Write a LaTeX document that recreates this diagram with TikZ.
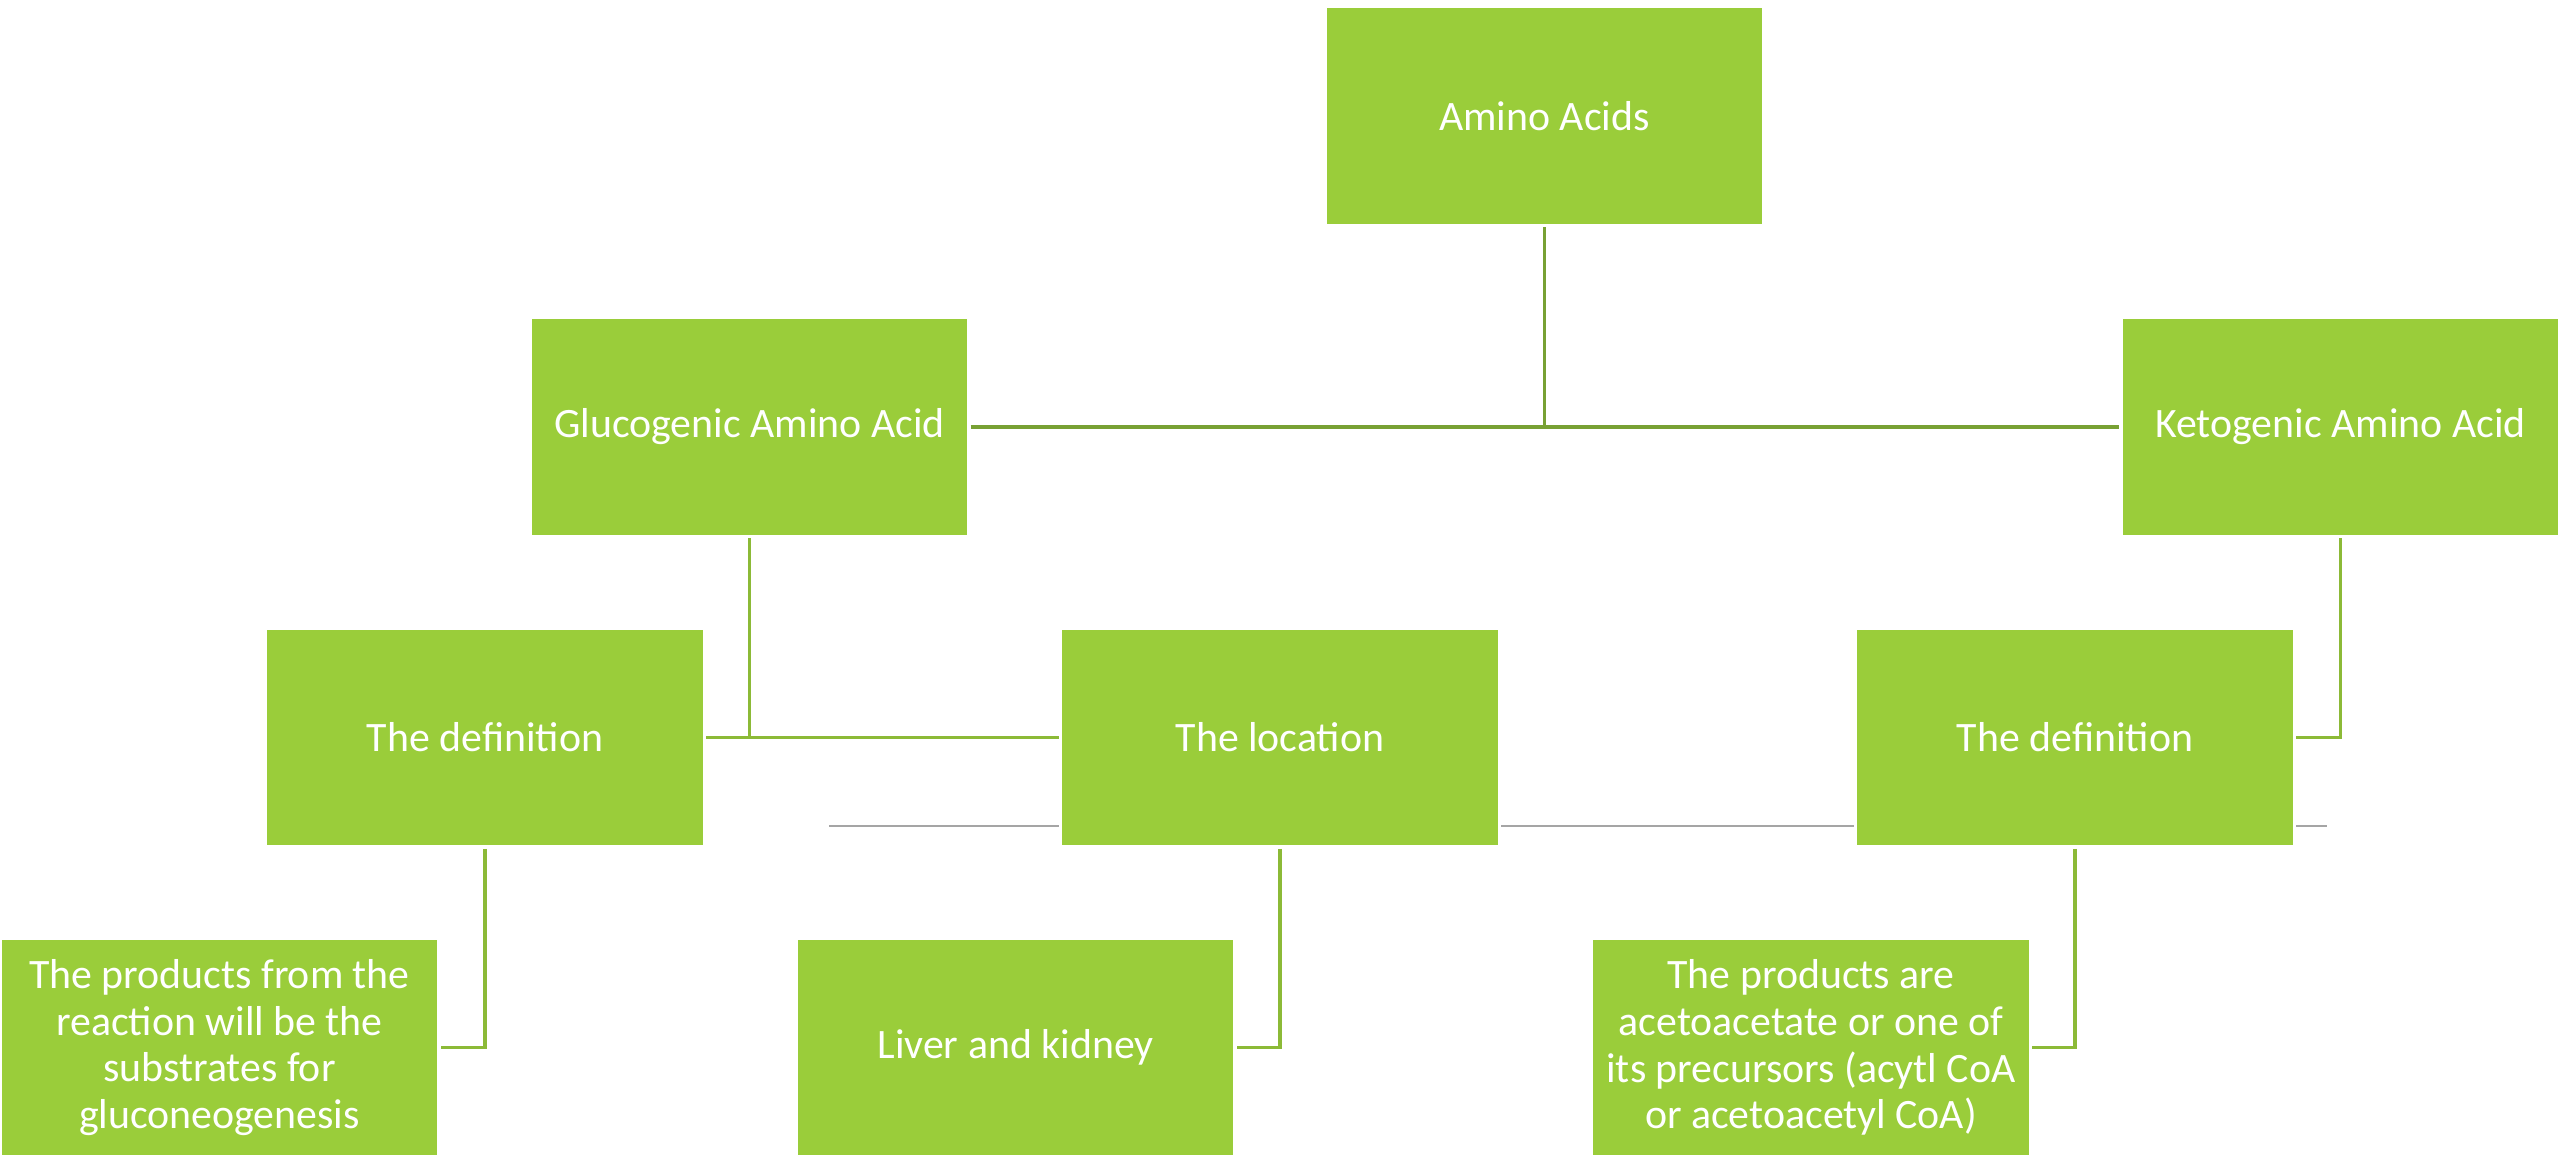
\documentclass[tikz,border=0pt]{standalone}
\usepackage{fontspec}
\setmainfont{Carlito}
\usetikzlibrary{positioning}
\definecolor{leaf}{HTML}{9ACD3A}
\definecolor{stem}{HTML}{78A134}
\definecolor{twig}{HTML}{8CBA37}
\definecolor{rulegray}{HTML}{A5A5A5}

\begin{document}
\begin{tikzpicture}[x=0.01cm,y=-0.01cm,line width=1pt]
  \tikzstyle{box}=[rectangle,draw=white,line width=1pt,fill=leaf,text=white,
                   minimum width=4.385cm,minimum height=2.19cm,align=center,
                   font=\fontsize{11.9}{13.3}\selectfont]
  \tikzstyle{stemline}=[draw=stem,line width=1pt]
  \tikzstyle{twigline}=[draw=twig,line width=1pt]

  \useasboundingbox (0,0) rectangle (2560,1155);

  % the grey rule that runs behind the middle row
  \coordinate (rs) at (829,826);
  \coordinate (re) at (2327,826);
  \draw[rulegray,line width=0.75pt] (rs) -- (re);

  \node[box] (amino) at (1544.5,116)  {Amino Acids};
  \node[box] (gluc)  at (749.5,427)   {Glucogenic Amino Acid};
  \node[box] (keto)  at (2340.5,427)  {Ketogenic Amino Acid};

  \node[box] (defl)  at (485,737.5)   {The definition};
  \node[box] (loc)   at (1280,737.5)  {The location};
  \node[box] (defr)  at (2075,737.5)  {The definition};

  \node[box] (botl)  at (219.5,1047.5) {The products from the\\reaction will be the\\substrates for\\gluconeogenesis};
  \node[box] (liver) at (1015.5,1047.5) {Liver and kidney};
  \node[box] (botr)  at (1811,1047.5)  {The products are\\acetoacetate or one of\\its precursors (acytl CoA\\or acetoacetyl CoA)};

  \draw[stemline] (amino) -- (amino |- gluc);
  \draw[stemline] (gluc) -- (keto);

  \draw[twigline] (gluc) -- (gluc |- defl);
  \draw[twigline] (defl) -- (loc);
  \draw[twigline] (keto) |- (defr);

  \draw[twigline] (defl) |- (botl);
  \draw[twigline] (loc) |- (liver);
  \draw[twigline] (defr) |- (botr);
\end{tikzpicture}
\end{document}
